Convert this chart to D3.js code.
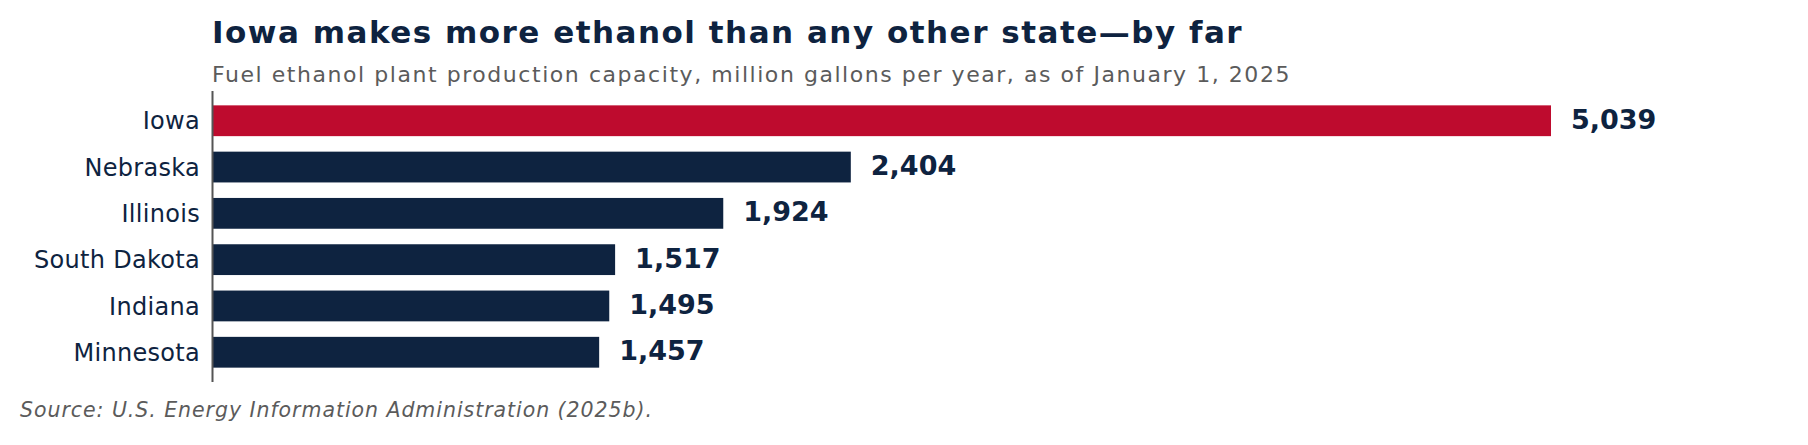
<!DOCTYPE html>
<html>
<head>
<meta charset="utf-8">
<script src="https://cdn.jsdelivr.net/npm/d3@7"></script>
<style>
  body { margin: 0; background: #fff; }
  svg { display: block; font-family: "DejaVu Sans", sans-serif; }
</style>
</head>
<body>
<div id="chart"></div>
<script>
const states = ['Iowa', 'Nebraska', 'Illinois', 'South Dakota', 'Indiana', 'Minnesota'];
const capacity = [5039, 2404, 1924, 1517, 1495, 1457];
const highlight = ['Iowa'];

const title = 'Iowa makes more ethanol than any other state\u2014by far';
const subtitle = 'Fuel ethanol plant production capacity, million gallons per year, as of January 1, 2025';
const source = 'Source: U.S. Energy Information Administration (2025b).';

const width = 1808;
const height = 445;
const navy = '#0e2340';
const red = '#be0b2e';
const gray = '#5b5b5b';

const rows = states.map((s, i) => ({ name: s, value: capacity[i] }));

const svg = d3.select('#chart')
  .append('svg')
  .attr('width', width)
  .attr('height', height);

// scales
const x = d3.scaleLinear()
  .domain([0, 5039])
  .range([212, 1551]);

const y = d3.scaleBand()
  .domain(states)
  .range([91, 382])
  .paddingInner(0.335)
  .paddingOuter(0.31);

// bars
svg.selectAll('rect.bar')
  .data(rows)
  .enter()
  .append('rect')
  .attr('class', 'bar')
  .attr('x', x(0))
  .attr('y', d => y(d.name))
  .attr('width', d => x(d.value) - x(0))
  .attr('height', y.bandwidth())
  .attr('fill', d => highlight.includes(d.name) ? red : navy);

// value labels
svg.selectAll('text.val')
  .data(rows)
  .enter()
  .append('text')
  .attr('class', 'val')
  .attr('x', d => x(d.value) + 20)
  .attr('y', d => y(d.name) + y.bandwidth() / 2)
  .attr('dy', '0.3em')
  .text(d => d3.format(',')(d.value))
  .style('font-size', '27px')
  .style('font-weight', 700)
  .style('fill', navy);

// y axis, only the line and labels
const yAxis = svg.append('g')
  .attr('transform', `translate(${x(0)},0)`)
  .call(d3.axisLeft(y).tickSize(0).tickPadding(12));

yAxis.select('.domain')
  .attr('d', `M0.5,91V382`)
  .attr('stroke', '#555')
  .attr('stroke-width', 2);

yAxis.selectAll('text')
  .attr('dy', '0.36em')
  .style('font-size', '24px')
  .style('font-family', '"DejaVu Sans", sans-serif')
  .style('letter-spacing', '0.3px')
  .style('fill', navy);

// titles
svg.append('text')
  .attr('x', 212)
  .attr('y', 43)
  .text(title)
  .style('font-size', '31px')
  .style('font-weight', 700)
  .style('letter-spacing', '1.5px')
  .style('fill', navy);

svg.append('text')
  .attr('x', 212)
  .attr('y', 82)
  .text(subtitle)
  .style('font-size', '22px')
  .style('letter-spacing', '1.55px')
  .style('fill', gray);

svg.append('text')
  .attr('x', 20)
  .attr('y', 417)
  .text(source)
  .style('font-size', '20.5px')
  .style('font-style', 'italic')
  .style('letter-spacing', '0.95px')
  .style('fill', gray);
</script>
</body>
</html>
